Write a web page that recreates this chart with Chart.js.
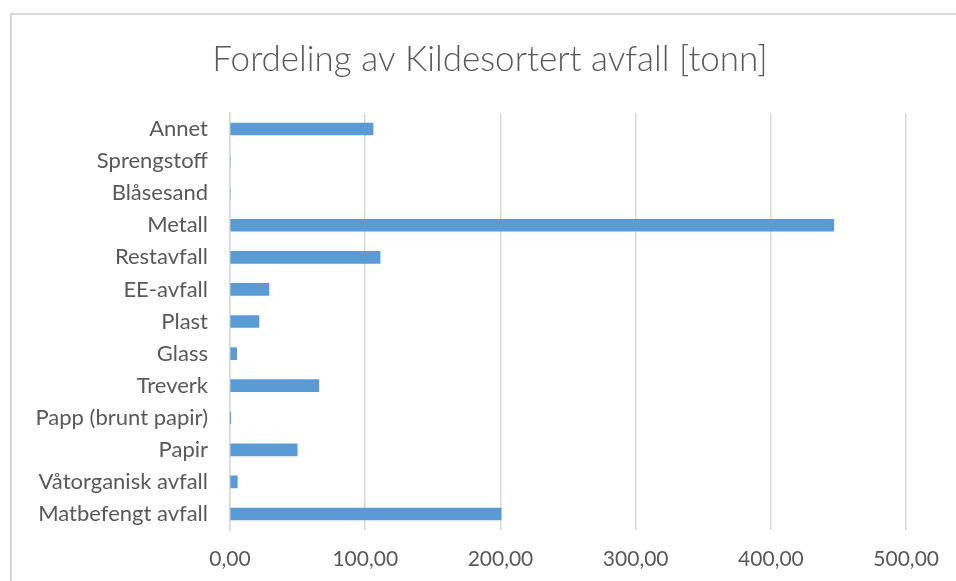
<!DOCTYPE html>
<html>
<head>
<meta charset="utf-8">
<script src="https://cdn.jsdelivr.net/npm/chart.js@4"></script>
<style>
  html, body { margin: 0; padding: 0; background: #fff; }
  #wrap { position: relative; width: 956px; height: 581px; overflow: hidden; }
  #frame {
    position: absolute; left: 10px; top: 13px; width: 1000px; height: 700px;
    border-left: 2px solid #d9d9d9; border-top: 2px solid #d9d9d9;
  }
  canvas { position: absolute; left: 0; top: 0; }
</style>
</head>
<body>
<div id="wrap">
  <div id="frame"></div>
  <canvas id="chart" width="956" height="581"></canvas>
</div>
<script>
// ── data ──
const CATEGORIES = [
  'Annet', 'Sprengstoff', 'Blåsesand', 'Metall', 'Restavfall', 'EE-avfall',
  'Plast', 'Glass', 'Treverk', 'Papp (brunt papir)', 'Papir',
  'Våtorganisk avfall', 'Matbefengt avfall'
];
const TONN = [105.8, 0, 0, 446.5, 111, 28.8, 21.4, 4.9, 65.7, 0.3, 49.7, 5.4, 200.5];
const X_MIN = 0;
const X_MAX = 500;
const X_STEP = 100;

const BAR_COLOR  = '#5b9bd5';
const GRID_COLOR = '#d9d9d9';
const TEXT_COLOR = '#595959';

Chart.defaults.font.family = 'Lato, "Open Sans", sans-serif';

// title sits a bit right of the full-width centre in the original
const titleShift = {
  id: 'titleShift',
  afterLayout(chart) {
    const t = chart.titleBlock;
    if (t) { t.left += 30; t.right += 30; }
  },
};

new Chart(document.getElementById('chart'), {
  type: 'bar',
  data: {
    labels: CATEGORIES,
    datasets: [{
      label: 'Tonn',
      data: TONN,
      backgroundColor: BAR_COLOR,
      barThickness: 12,
      borderWidth: 0,
    }],
  },
  options: {
    indexAxis: 'y',
    responsive: false,
    animation: false,
    layout: { padding: { left: 12, right: 48, top: 0, bottom: 0 } },
    plugins: {
      legend: { display: false },
      tooltip: { enabled: false },
      title: {
        display: true,
        text: 'Fordeling av Kildesortert avfall [tonn]',
        color: TEXT_COLOR,
        font: { size: 35, weight: '300' },
        padding: { top: 39, bottom: 32 },
        lineHeight: 1.2,
      },
    },
    scales: {
      x: {
        min: X_MIN,
        max: X_MAX,
        border: { display: false },
        grid: { color: GRID_COLOR, lineWidth: 1.5, drawTicks: false },
        ticks: {
          stepSize: X_STEP,
          color: TEXT_COLOR,
          font: { size: 21 },
          padding: 17,
          maxRotation: 0,
          callback: v => v.toFixed(2).replace('.', ','),
        },
        afterFit: s => { s.height = 51; },
      },
      y: {
        border: { display: true, color: GRID_COLOR, width: 1.5 },
        grid: { display: false, drawTicks: false },
        ticks: { color: TEXT_COLOR, font: { size: 22 }, padding: 22, autoSkip: false },
        afterFit: s => { s.width = 218; },
      },
    },
  },
  plugins: [titleShift],
});
</script>
</body>
</html>
